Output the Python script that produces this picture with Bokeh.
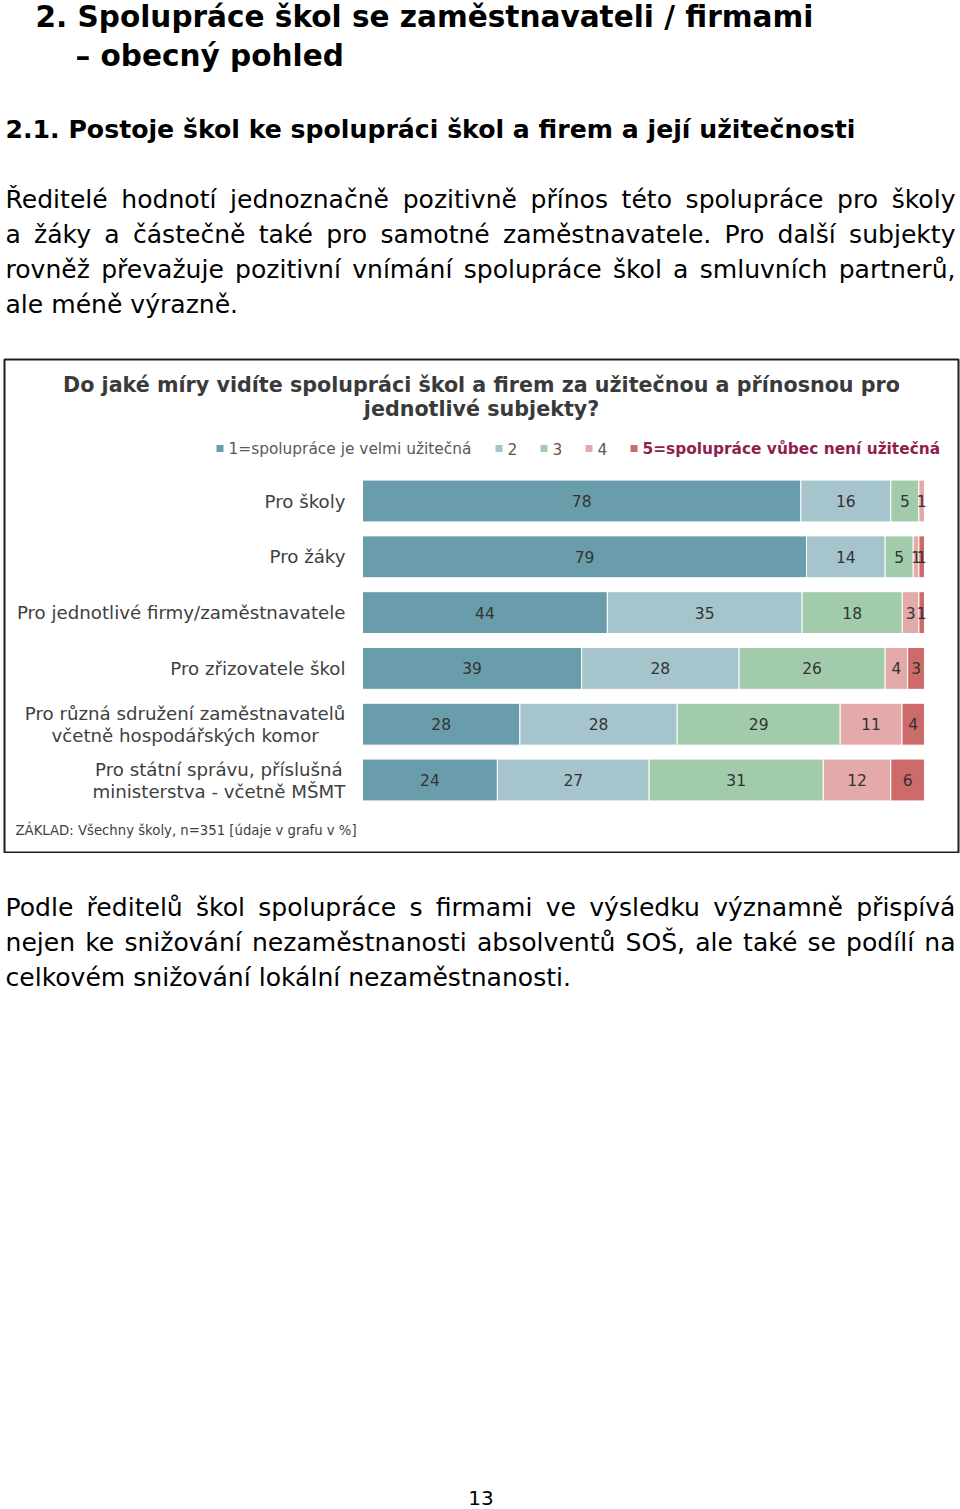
import glob
from bokeh.plotting import figure
from bokeh.layouts import column
from bokeh.models import Range1d, ColumnDataSource
from bokeh.core.properties import value
from bokeh.embed import file_html
from bokeh.resources import INLINE

# ---------------- data ----------------
categories = [
    "Pro školy",
    "Pro žáky",
    "Pro jednotlivé firmy/zaměstnavatele",
    "Pro zřizovatele škol",
    "Pro různá sdružení zaměstnavatelů\nvčetně hospodářských komor",
    "Pro státní správu, příslušná\nministerstva - včetně MŠMT",
]
series_names = ["1=spolupráce je velmi užitečná", "2", "3", "4",
                "5=spolupráce vůbec není užitečná"]
v1 = [78, 79, 44, 39, 28, 24]
v2 = [16, 14, 35, 28, 28, 27]
v3 = [5, 5, 18, 26, 29, 31]
v4 = [1, 1, 3, 4, 11, 12]
v5 = [0, 1, 1, 3, 4, 6]
series_values = [v1, v2, v3, v4, v5]
colors = ["#6a9dab", "#a6c4cc", "#a2cbab", "#e4a9a9", "#cd6b6b"]

heading1 = "2. Spolupráce škol se zaměstnavateli / firmami"
heading2 = "– obecný pohled"
heading3 = "2.1. Postoje škol ke spolupráci škol a firem a její užitečnosti"
para1 = [
    "Ředitelé hodnotí jednoznačně pozitivně přínos této spolupráce pro školy",
    "a žáky a částečně také pro samotné zaměstnavatele. Pro další subjekty",
    "rovněž převažuje pozitivní vnímání spolupráce škol a smluvních partnerů,",
    "ale méně výrazně.",
]
chart_title = ["Do jaké míry vidíte spolupráci škol a firem za užitečnou a přínosnou pro",
               "jednotlivé subjekty?"]
footnote = "ZÁKLAD: Všechny školy, n=351 [údaje v grafu v %]"
para2 = [
    "Podle ředitelů škol spolupráce s firmami ve výsledku významně přispívá",
    "nejen ke snižování nezaměstnanosti absolventů SOŠ, ale také se podílí na",
    "celkovém snižování lokální nezaměstnanosti.",
]
page_number = "13"

FONT = "DejaVu Sans"

# ---------------- text measuring ----------------
_fonts = {}


def _font(bold):
    if bold in _fonts:
        return _fonts[bold]
    f = None
    try:
        from PIL import ImageFont
        name = "DejaVuSans-Bold.ttf" if bold else "DejaVuSans.ttf"
        cands = [name]
        for d in ["/usr/share/fonts", "/usr/local/share/fonts", "/usr/share/fonts/truetype"]:
            cands += glob.glob(d + "/**/" + name, recursive=True)
        for c in cands:
            try:
                f = ImageFont.truetype(c, 100)
                break
            except Exception:
                f = None
    except Exception:
        f = None
    _fonts[bold] = f
    return f


def tw(s, size, bold=False):
    f = _font(bold)
    if f is not None:
        return f.getlength(s) * size / 100.0
    return len(s) * size * (0.68 if bold else 0.6)


def fit(s, width, bold=False):
    return width / tw(s, 1.0, bold)


# common frame borders (left, right, top, bottom) so that the column aligns
BL, BR = 4, 2


def blank(w, h, xr, yr, tb=(0, 0)):
    p = figure(width=w, height=h, x_range=xr, y_range=yr, output_backend="svg",
               toolbar_location=None)
    p.min_border_left, p.min_border_right = BL, BR
    p.min_border_top, p.min_border_bottom = tb
    p.xaxis.visible = False
    p.yaxis.visible = False
    p.xgrid.visible = False
    p.ygrid.visible = False
    p.outline_line_color = None
    p.background_fill_color = "white"
    p.border_fill_color = "white"
    return p


def txt(p, xs, ys, texts, size, bold=False, align="left", baseline="middle",
        color="#000000"):
    p.text(x=xs, y=ys, text=texts, text_font=value(FONT),
           text_font_size=f"{size:.2f}px",
           text_font_style="bold" if bold else "normal",
           text_align=align, text_baseline=baseline, text_color=color)


def line_words(p, line, x0, x1, y, size, justify, color="#000000"):
    words = line.split(" ")
    widths = [tw(w, size) for w in words]
    if justify and len(words) > 1:
        gap = (x1 - x0 - sum(widths)) / (len(words) - 1)
    else:
        gap = tw(" ", size)
    xs = []
    x = x0
    for w in widths:
        xs.append(x)
        x += w + gap
    txt(p, xs, [y] * len(words), words, size, color=color)


W = 960
H1, H2 = 358, 495
H3 = 1509 - H1 - H2
BOT0 = H1 + H2
XR = (BL, W - BR)   # data x == screen x inside the frame

# ---------------- top text ----------------
top = blank(W, H1, Range1d(*XR), Range1d(H1, 0))
s_h1 = fit(heading1, 778, True)
txt(top, [35], [16], [heading1], s_h1, bold=True)
txt(top, [75], [55], [heading2], s_h1, bold=True)
s_h3 = fit(heading3, 850, True)
txt(top, [5], [129], [heading3], s_h3, bold=True)
s_p = 0.5 * (fit(para1[3], 232) + fit(para2[2], 567))
for i, ln in enumerate(para1):
    line_words(top, ln, 5, 955, 199 + 35 * i, s_p, justify=(i < len(para1) - 1))

# ---------------- chart ----------------
CX0, CXS = 362.0, 5.62      # screen px of 0 %, px per %
RY0, RYS = 500.5, 55.8      # screen px of first row centre, px per row


def dx(sx):
    return (sx - CX0) / CXS


def dy(sy):
    return (sy - RY0) / RYS


chart = blank(W, H2, Range1d(dx(XR[0]), dx(XR[1])), Range1d(dy(852), dy(359)),
              tb=(1, 1))
chart.outline_line_color = "#1e1e1e"
chart.outline_line_width = 2

rows = list(range(len(categories)))
totals = [sum(s[i] for s in series_values) for i in rows]
left = [0.0] * len(rows)
lab_x, lab_y, lab_t = [], [], []
for k, vals in enumerate(series_values):
    widths = [vals[i] * 100.0 / totals[i] for i in rows]
    right = [left[i] + widths[i] for i in rows]
    src = ColumnDataSource(dict(y=rows, left=left, right=right))
    chart.hbar(y="y", left="left", right="right", height=0.75, source=src,
               fill_color=colors[k], line_color="white", line_width=1)
    for i in rows:
        if vals[i] > 0:
            lab_x.append((left[i] + right[i]) / 2)
            lab_y.append(i)
            lab_t.append(str(vals[i]))
    left = right
txt(chart, lab_x, lab_y, lab_t, 15.5, align="center", color="#333333")

# category labels
s_cat = fit(categories[2], 329)
for i, c in enumerate(categories):
    parts = c.split("\n")
    if len(parts) == 1:
        txt(chart, [dx(345)], [i], [c], s_cat, align="right", color="#404040")
    else:
        bw = max(tw(s, s_cat) for s in parts)
        cx = 345 - bw / 2
        n = len(parts)
        for j, s in enumerate(parts):
            off = (j - (n - 1) / 2) * 22
            txt(chart, [dx(cx)], [i + off / RYS], [s], s_cat, align="center",
                color="#404040")

# title
s_t = fit(chart_title[0], 837, True)
txt(chart, [dx(481)] * 2, [dy(384), dy(408)], chart_title, s_t, bold=True,
    align="center", color="#3a3a3a")

# legend
s_l = fit(series_names[0], 243)
leg_x = [219.5, 498.5, 543.5, 588.5, 633.5]
chart.scatter(x=[dx(x) for x in leg_x], y=[dy(448)] * 5, marker="square", size=7,
              fill_color=colors, line_color=None)
for k, name in enumerate(series_names):
    bold = (k == 4)
    txt(chart, [dx(leg_x[k] + 8.5)], [dy(448)], [name], s_l, bold=bold,
        color="#8f1f4f" if bold else "#595959")

# footnote
s_f = fit(footnote, 341)
txt(chart, [dx(15)], [dy(830)], [footnote], s_f, color="#404040")

# ---------------- bottom text ----------------
bottom = blank(W, H3, Range1d(*XR), Range1d(H3, 0))
for i, ln in enumerate(para2):
    line_words(bottom, ln, 5, 955, 907 - BOT0 + 35 * i, s_p,
               justify=(i < len(para2) - 1))
txt(bottom, [480.5], [1497 - BOT0], [page_number], 20, align="center")

layout = column(top, chart, bottom, spacing=0)
open("out.html", "w").write(file_html(layout, INLINE))
